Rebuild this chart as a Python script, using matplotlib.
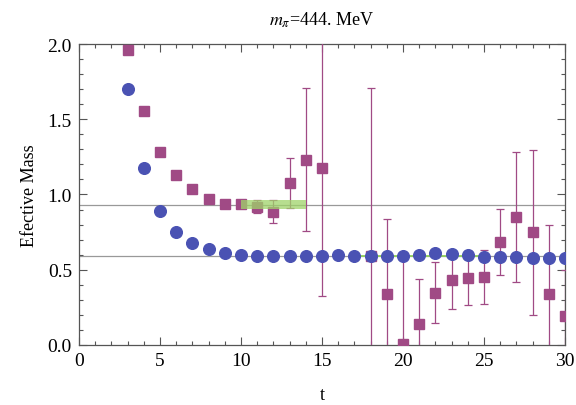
import matplotlib
matplotlib.use("Agg")
import matplotlib.pyplot as plt
from matplotlib.ticker import MultipleLocator

# pion effective mass (blue circles)
t_pi = [3, 4, 5, 6, 7, 8, 9, 10, 11, 12, 13, 14, 15, 16, 17, 18, 19, 20, 21, 22, 23, 24, 25, 26, 27, 28, 29, 30]
m_pi = [1.70, 1.175, 0.89, 0.75, 0.678, 0.638, 0.611, 0.598, 0.592, 0.592, 0.59, 0.59, 0.592, 0.595, 0.59, 0.59,
        0.59, 0.59, 0.60, 0.61, 0.605, 0.595, 0.585, 0.585, 0.585, 0.58, 0.575, 0.58]

# second channel (magenta squares) with errors
t_sq = [3, 4, 5, 6, 7, 8, 9, 10, 11, 12, 13, 14, 15, 18, 19, 20, 21, 22, 23, 24, 25, 26, 27, 28, 29, 30]
m_sq = [1.96, 1.555, 1.28, 1.13, 1.037, 0.97, 0.937, 0.935, 0.92, 0.886, 1.076, 1.23, 1.174, 0.59, 0.339, 0.005,
        0.137, 0.348, 0.432, 0.447, 0.454, 0.682, 0.85, 0.749, 0.339, 0.195]
e_sq = [0.005, 0.005, 0.005, 0.005, 0.005, 0.01, 0.01, 0.02, 0.045, 0.075, 0.165, 0.475, 0.85, 1.12, 0.50, 0.58,
        0.30, 0.20, 0.19, 0.18, 0.18, 0.22, 0.43, 0.55, 0.46, 0.30]

# fitted plateaus
fit_hi = 0.933
fit_hi_err = 0.03
fit_hi_range = (10, 14)
fit_lo = 0.591
fit_lo_err = 0.008
fit_lo_range = (17, 25)

plt.rcParams['font.family'] = ['Liberation Serif', 'DejaVu Serif']
plt.rcParams['mathtext.fontset'] = 'stix'

fig = plt.figure(figsize=(5.76, 4.06), dpi=100)
ax = fig.add_axes([0.137, 0.148, 0.844, 0.741])

blue = '#4a52b3'
mag = '#a04a85'

ax.axhline(fit_hi, color='#999999', lw=0.9, zorder=1)
ax.axhline(fit_lo, color='#999999', lw=0.9, zorder=1)

ax.errorbar(t_sq, m_sq, yerr=e_sq, fmt='s', color=mag, ms=7.5, ecolor=mag, elinewidth=0.9,
            capsize=3, capthick=0.9, zorder=3, clip_on=True)

ax.fill_between(fit_hi_range, fit_hi - fit_hi_err, fit_hi + fit_hi_err, color='#9fd46a', alpha=0.75,
                lw=0, zorder=4)
ax.fill_between(fit_lo_range, fit_lo - fit_lo_err, fit_lo + fit_lo_err, color='#8fd05a', alpha=0.9,
                lw=0, zorder=4)

ax.plot(t_pi, m_pi, 'o', color=blue, ms=8.4, zorder=5, clip_on=True)

ax.set_xlim(0, 30)
ax.set_ylim(0, 2.0)
ax.xaxis.set_major_locator(MultipleLocator(5))
ax.xaxis.set_minor_locator(MultipleLocator(1))
ax.yaxis.set_major_locator(MultipleLocator(0.5))
ax.yaxis.set_minor_locator(MultipleLocator(0.1))
ax.xaxis.set_major_formatter(plt.FuncFormatter(lambda v, p: '%d' % v))
ax.yaxis.set_major_formatter(plt.FuncFormatter(lambda v, p: '%.1f' % v))
ax.tick_params(which='both', direction='in', top=True, right=True, color='#555555',
               labelsize=14, width=0.8, pad=5)
ax.tick_params(which='major', length=6)
ax.tick_params(which='minor', length=3)
for s in ax.spines.values():
    s.set_color('#555555')
    s.set_linewidth(0.9)

ax.set_xlabel('t', fontsize=13, labelpad=12)
ax.set_ylabel('Efective Mass', fontsize=13, labelpad=7)
ax.set_title(r'$m_\pi$=444. MeV', fontsize=13, pad=14)

fig.savefig('out.png', dpi=100)
